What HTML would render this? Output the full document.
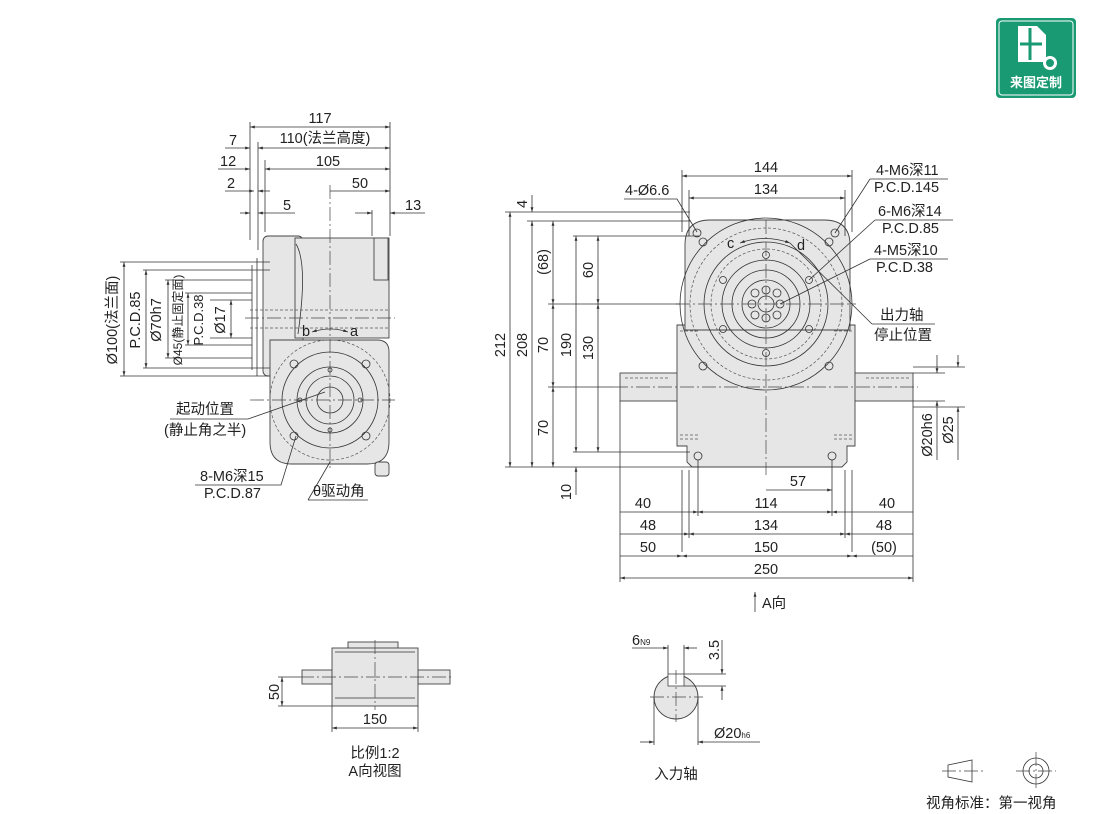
<!DOCTYPE html>
<html><head><meta charset="utf-8"><style>
html,body{margin:0;padding:0;background:#fff;}
svg{display:block;font-family:"Liberation Sans","Noto Sans CJK SC",sans-serif;}
text{fill:#222;font-size:14.5px;}
.l{stroke:#333;stroke-width:0.8;fill:none;}
.c{stroke:#444;stroke-width:0.7;fill:none;stroke-dasharray:14 3 2 3;}
.d{stroke:#555;stroke-width:0.7;fill:none;stroke-dasharray:3 2;}
.b{fill:#e6e6e6;stroke:#444;stroke-width:0.9;}
</style></head><body>
<svg width="1110" height="814" viewBox="0 0 1110 814" xmlns="http://www.w3.org/2000/svg">
<defs>
<marker id="a" viewBox="0 0 10 10" refX="10" refY="5" markerWidth="8" markerHeight="6" orient="auto-start-reverse"><path d="M0,2 L10,5 L0,8z" fill="#333"/></marker>
</defs>

<rect x="996" y="18" width="80" height="80" rx="4" fill="#1a9a73"/>
<rect x="999" y="21" width="74" height="74" rx="3" fill="none" stroke="#fff" stroke-width="1"/>
<path d="M1018,26 h19 l9,9 v27 h-28z" fill="#fff"/>
<path d="M1030,28 v32 M1020,44 h22" stroke="#1a9a73" stroke-width="3"/>
<circle cx="1050" cy="63" r="7" fill="#fff"/><circle cx="1050" cy="63" r="4" fill="#1a9a73"/>
<text x="1036" y="87" text-anchor="middle" style="fill:#fff;font-size:13px;font-weight:bold">来图定制</text>

<rect class="b" x="263" y="236" width="40" height="140" rx="5"/>
<rect class="b" x="295" y="238" width="94" height="100"/>
<rect class="b" x="374" y="238" width="14" height="42"/>
<path class="b" d="M270,340 h107 q12,0 12,12 v90 q0,22 -22,22 h-75 q-22,0 -22,-22z"/>
<rect class="b" x="375" y="462" width="14" height="14" rx="3"/>
<path class="l" d="M296,244 q12,20 2,90"/>
<line class="l" x1="257" y1="258" x2="257" y2="376"/>
<line class="l" x1="252" y1="265" x2="252" y2="370"/>
<circle class="d" cx="330" cy="400" r="60"/>
<circle class="l" cx="330" cy="400" r="48"/>
<circle class="l" cx="330" cy="400" r="33"/>
<circle class="l" cx="330" cy="400" r="24"/>
<circle class="l" cx="330" cy="400" r="13"/>
<g class="l">
<circle cx="294" cy="364" r="4"/><circle cx="366" cy="364" r="4"/><circle cx="294" cy="436" r="4"/><circle cx="366" cy="436" r="4"/>
<circle cx="330" cy="370" r="2"/><circle cx="330" cy="430" r="2"/><circle cx="300" cy="400" r="2"/><circle cx="360" cy="400" r="2"/>
</g>
<line class="c" x1="330" y1="185" x2="330" y2="470"/>
<line class="c" x1="250" y1="400" x2="395" y2="400"/>
<line class="c" x1="245" y1="318" x2="395" y2="318"/>
<line class="d" x1="250" y1="310" x2="390" y2="310"/>
<line class="d" x1="250" y1="328" x2="390" y2="328"/>
<text x="302" y="336">b</text><text x="350" y="336">a</text>
<path class="l" d="M312,332 q18,-6 36,0" marker-end="url(#a)" marker-start="url(#a)"/>
<g class="l">
<line x1="250" y1="122" x2="250" y2="240"/><line x1="258" y1="142" x2="258" y2="250"/>
<line x1="265" y1="160" x2="265" y2="232"/><line x1="390" y1="122" x2="390" y2="236"/>
<line x1="372" y1="210" x2="372" y2="236"/>
<line x1="250" y1="127" x2="390" y2="127" marker-start="url(#a)" marker-end="url(#a)"/>
<line x1="258" y1="148" x2="390" y2="148" marker-start="url(#a)" marker-end="url(#a)"/>
<line x1="265" y1="169" x2="390" y2="169" marker-start="url(#a)" marker-end="url(#a)"/>
<line x1="330" y1="191" x2="390" y2="191" marker-end="url(#a)"/>
<line x1="225" y1="148" x2="250" y2="148" marker-end="url(#a)"/><line x1="218" y1="169" x2="250" y2="169" marker-end="url(#a)"/>
<line x1="225" y1="191" x2="254" y2="191" marker-end="url(#a)"/><line x1="270" y1="191" x2="258" y2="191" marker-end="url(#a)"/>
<line x1="240" y1="213" x2="250" y2="213" marker-end="url(#a)"/><line x1="295" y1="213" x2="258" y2="213" marker-end="url(#a)"/>
<line x1="355" y1="213" x2="372" y2="213" marker-end="url(#a)"/><line x1="425" y1="213" x2="390" y2="213" marker-end="url(#a)"/>
</g>
<text x="320" y="123" text-anchor="middle">117</text>
<text x="325" y="143" text-anchor="middle">110(法兰高度)</text>
<text x="328" y="166" text-anchor="middle">105</text>
<text x="360" y="188" text-anchor="middle">50</text>
<text x="229" y="145">7</text><text x="220" y="166">12</text><text x="227" y="188">2</text>
<text x="283" y="210">5</text><text x="405" y="210">13</text>
<g class="l">
<line x1="120" y1="262" x2="270" y2="262"/><line x1="120" y1="376" x2="270" y2="376"/>
<line x1="143" y1="270" x2="270" y2="270"/><line x1="143" y1="368" x2="270" y2="368"/>
<line x1="165" y1="280" x2="252" y2="280"/><line x1="165" y1="358" x2="252" y2="358"/>
<line x1="185" y1="293" x2="252" y2="293"/><line x1="185" y1="345" x2="252" y2="345"/>
<line x1="210" y1="300" x2="252" y2="300"/><line x1="210" y1="338" x2="252" y2="338"/>
<line x1="124" y1="262" x2="124" y2="376" marker-start="url(#a)" marker-end="url(#a)"/>
<line x1="146" y1="270" x2="146" y2="368" marker-start="url(#a)" marker-end="url(#a)"/>
<line x1="168" y1="280" x2="168" y2="358" marker-start="url(#a)" marker-end="url(#a)"/>
<line x1="188" y1="293" x2="188" y2="345" marker-start="url(#a)" marker-end="url(#a)"/>
<line x1="231" y1="300" x2="231" y2="338" marker-start="url(#a)" marker-end="url(#a)"/>
</g>
<text transform="translate(117,320) rotate(-90)" text-anchor="middle">Ø100(法兰面)</text>
<text transform="translate(140,320) rotate(-90)" text-anchor="middle">P.C.D.85</text>
<text transform="translate(161,320) rotate(-90)" text-anchor="middle">Ø70h7</text>
<text transform="translate(182,320) rotate(-90)" text-anchor="middle" style="font-size:12px">Ø45(静止固定面)</text>
<text transform="translate(203,320) rotate(-90)" text-anchor="middle" style="font-size:13px">P.C.D.38</text>
<text transform="translate(225,320) rotate(-90)" text-anchor="middle">Ø17</text>
<text x="176" y="414">起动位置</text><text x="164" y="435">(静止角之半)</text>
<path class="l" d="M170,419 h78 L325,392"/>
<text x="200" y="481">8-M6深15</text><text x="204" y="498">P.C.D.87</text>
<path class="l" d="M195,485 h86 L296,436"/>
<text x="313" y="496">θ驱动角</text>
<path class="l" d="M308,500 h60 M308,500 L330,462"/>

<rect class="b" x="620" y="373" width="62" height="28"/>
<rect class="b" x="851" y="373" width="62" height="28"/>
<path class="b" d="M677,325 h178 v121 h-8 v16 l-5,5 h-150 l-5,-5 v-16 h-10z"/>
<path class="b" d="M685,330 v-85 q0,-25 25,-25 h114 q26,0 26,25 v85z"/>
<circle class="l" cx="766" cy="304" r="86"/>
<circle class="d" cx="766" cy="304" r="76"/>
<circle class="l" cx="766" cy="304" r="62"/>
<circle class="d" cx="766" cy="304" r="55"/>
<circle class="l" cx="766" cy="304" r="44"/>
<circle class="l" cx="766" cy="304" r="34"/>
<circle class="l" cx="766" cy="304" r="24"/>
<circle class="l" cx="766" cy="304" r="8"/>
<g class="l">
<circle cx="780" cy="304" r="4"/><circle cx="752" cy="304" r="4"/><circle cx="766" cy="290" r="4"/><circle cx="766" cy="318" r="4"/>
<circle cx="777" cy="293" r="4"/><circle cx="755" cy="293" r="4"/><circle cx="777" cy="315" r="4"/><circle cx="755" cy="315" r="4"/>
<circle cx="766" cy="255" r="3.5"/><circle cx="766" cy="353" r="3.5"/><circle cx="723" cy="280" r="3.5"/><circle cx="809" cy="280" r="3.5"/>
<circle cx="723" cy="329" r="3.5"/><circle cx="809" cy="329" r="3.5"/>
<circle cx="703" cy="242" r="4"/><circle cx="829" cy="242" r="4"/><circle cx="703" cy="366" r="4"/><circle cx="829" cy="366" r="4"/>
<circle cx="697" cy="233" r="4"/><circle cx="835" cy="233" r="4"/>
<circle cx="698" cy="456" r="4"/><circle cx="832" cy="456" r="4"/>
</g>
<g class="d">
<line x1="680" y1="435" x2="698" y2="435"/><line x1="680" y1="439" x2="698" y2="439"/>
<line x1="834" y1="435" x2="852" y2="435"/><line x1="834" y1="439" x2="852" y2="439"/>
<line x1="680" y1="331" x2="698" y2="331"/><line x1="834" y1="331" x2="852" y2="331"/>
<line x1="625" y1="378" x2="668" y2="378"/><line x1="866" y1="378" x2="910" y2="378"/>
</g>
<text x="727" y="248">c</text><text x="797" y="250">d</text>
<path class="l" d="M740,243 q25,-9 50,0" marker-start="url(#a)" marker-end="url(#a)"/>
<line class="c" x1="766" y1="220" x2="766" y2="475"/>
<line class="c" x1="676" y1="304" x2="856" y2="304"/>
<line class="c" x1="614" y1="387" x2="918" y2="387"/>
<g class="l">
<line x1="682" y1="170" x2="682" y2="232"/><line x1="852" y1="170" x2="852" y2="232"/>
<line x1="689" y1="190" x2="689" y2="236"/><line x1="845" y1="190" x2="845" y2="236"/>
<line x1="682" y1="176" x2="852" y2="176" marker-start="url(#a)" marker-end="url(#a)"/>
<line x1="689" y1="198" x2="845" y2="198" marker-start="url(#a)" marker-end="url(#a)"/>
</g>
<text x="766" y="172" text-anchor="middle">144</text><text x="766" y="194" text-anchor="middle">134</text>
<text x="625" y="195">4-Ø6.6</text><path class="l" d="M624,199 h53 L697,232"/>
<text x="876" y="175">4-M6深11</text><text x="874" y="192">P.C.D.145</text>
<path class="l" d="M870,179 h78 M870,179 L835,233"/>
<text x="878" y="216">6-M6深14</text><text x="882" y="233">P.C.D.85</text>
<path class="l" d="M875,220 h78 M875,220 L809,280"/>
<text x="874" y="255">4-M5深10</text><text x="876" y="272">P.C.D.38</text>
<path class="l" d="M870,259 h78 M870,259 L780,304"/>
<text x="880" y="320">出力轴</text><text x="874" y="340">停止位置</text>
<path class="l" d="M872,324 h63 M872,324 L790,243"/>
<g class="l">
<line x1="505" y1="212" x2="690" y2="212"/><line x1="527" y1="221" x2="690" y2="221"/>
<line x1="573" y1="236" x2="700" y2="236"/><line x1="548" y1="304" x2="680" y2="304"/>
<line x1="548" y1="387" x2="614" y2="387"/><line x1="505" y1="467" x2="700" y2="467"/>
<line x1="573" y1="452" x2="690" y2="452"/>
<line x1="510" y1="212" x2="510" y2="467" marker-start="url(#a)" marker-end="url(#a)"/>
<line x1="532" y1="221" x2="532" y2="467" marker-start="url(#a)" marker-end="url(#a)"/>
<line x1="553" y1="221" x2="553" y2="304" marker-start="url(#a)" marker-end="url(#a)"/>
<line x1="553" y1="304" x2="553" y2="387" marker-start="url(#a)" marker-end="url(#a)"/>
<line x1="553" y1="387" x2="553" y2="467" marker-start="url(#a)" marker-end="url(#a)"/>
<line x1="576" y1="236" x2="576" y2="452" marker-start="url(#a)" marker-end="url(#a)"/>
<line x1="598" y1="236" x2="598" y2="304" marker-start="url(#a)" marker-end="url(#a)"/>
<line x1="598" y1="304" x2="598" y2="452" marker-start="url(#a)" marker-end="url(#a)"/>
<line x1="532" y1="195" x2="532" y2="212" marker-end="url(#a)"/>
<line x1="576" y1="495" x2="576" y2="467" marker-end="url(#a)"/>
</g>
<text transform="translate(527,204) rotate(-90)" text-anchor="middle">4</text>
<text transform="translate(505,345) rotate(-90)" text-anchor="middle">212</text>
<text transform="translate(527,345) rotate(-90)" text-anchor="middle">208</text>
<text transform="translate(548,262) rotate(-90)" text-anchor="middle">(68)</text>
<text transform="translate(548,345) rotate(-90)" text-anchor="middle">70</text>
<text transform="translate(548,428) rotate(-90)" text-anchor="middle">70</text>
<text transform="translate(571,345) rotate(-90)" text-anchor="middle">190</text>
<text transform="translate(593,270) rotate(-90)" text-anchor="middle">60</text>
<text transform="translate(593,348) rotate(-90)" text-anchor="middle">130</text>
<text transform="translate(571,492) rotate(-90)" text-anchor="middle">10</text>
<g class="l">
<line x1="913" y1="373" x2="945" y2="373"/><line x1="913" y1="401" x2="945" y2="401"/>
<line x1="913" y1="367" x2="965" y2="367"/><line x1="913" y1="407" x2="965" y2="407"/>
<line x1="937" y1="355" x2="937" y2="373" marker-end="url(#a)"/><line x1="937" y1="460" x2="937" y2="401" marker-end="url(#a)"/>
<line x1="958" y1="355" x2="958" y2="367" marker-end="url(#a)"/><line x1="958" y1="460" x2="958" y2="407" marker-end="url(#a)"/>
</g>
<text transform="translate(932,435) rotate(-90)" text-anchor="middle">Ø20h6</text>
<text transform="translate(953,430) rotate(-90)" text-anchor="middle">Ø25</text>
<g class="l">
<line x1="620" y1="401" x2="620" y2="582"/><line x1="913" y1="401" x2="913" y2="582"/>
<line x1="682" y1="470" x2="682" y2="552"/><line x1="852" y1="470" x2="852" y2="552"/>
<line x1="689" y1="470" x2="689" y2="538"/><line x1="845" y1="470" x2="845" y2="538"/>
<line x1="698" y1="460" x2="698" y2="516"/><line x1="832" y1="460" x2="832" y2="516"/>
<line x1="620" y1="512" x2="698" y2="512" marker-end="url(#a)"/><line x1="698" y1="512" x2="832" y2="512" marker-start="url(#a)" marker-end="url(#a)"/><line x1="913" y1="512" x2="832" y2="512" marker-end="url(#a)"/>
<line x1="620" y1="534" x2="689" y2="534" marker-end="url(#a)"/><line x1="689" y1="534" x2="845" y2="534" marker-start="url(#a)" marker-end="url(#a)"/><line x1="913" y1="534" x2="845" y2="534" marker-end="url(#a)"/>
<line x1="620" y1="556" x2="682" y2="556" marker-end="url(#a)"/><line x1="682" y1="556" x2="852" y2="556" marker-start="url(#a)" marker-end="url(#a)"/><line x1="913" y1="556" x2="852" y2="556" marker-end="url(#a)"/>
<line x1="620" y1="578" x2="913" y2="578" marker-start="url(#a)" marker-end="url(#a)"/>
<line x1="766" y1="490" x2="832" y2="490" marker-end="url(#a)"/>
<line x1="755" y1="612" x2="755" y2="592" marker-end="url(#a)"/>
</g>
<text x="798" y="486" text-anchor="middle">57</text>
<text x="643" y="508" text-anchor="middle">40</text><text x="766" y="508" text-anchor="middle">114</text><text x="887" y="508" text-anchor="middle">40</text>
<text x="648" y="530" text-anchor="middle">48</text><text x="766" y="530" text-anchor="middle">134</text><text x="884" y="530" text-anchor="middle">48</text>
<text x="648" y="552" text-anchor="middle">50</text><text x="766" y="552" text-anchor="middle">150</text><text x="884" y="552" text-anchor="middle">(50)</text>
<text x="766" y="574" text-anchor="middle">250</text>
<text x="762" y="608">A向</text>

<rect class="b" x="302" y="670" width="30" height="14"/>
<rect class="b" x="418" y="670" width="32" height="14"/>
<rect class="b" x="348" y="642" width="50" height="8"/>
<rect class="b" x="332" y="648" width="86" height="58"/>
<line class="l" x1="335" y1="652" x2="415" y2="652"/><line class="l" x1="335" y1="698" x2="415" y2="698"/>
<line class="c" x1="300" y1="677" x2="452" y2="677"/><line class="c" x1="375" y1="640" x2="375" y2="710"/>
<g class="l">
<line x1="278" y1="677" x2="300" y2="677"/><line x1="278" y1="706" x2="332" y2="706"/>
<line x1="282" y1="692" x2="282" y2="677" marker-end="url(#a)"/><line x1="282" y1="692" x2="282" y2="706" marker-end="url(#a)"/>
<line x1="332" y1="706" x2="332" y2="732"/><line x1="418" y1="706" x2="418" y2="732"/>
<line x1="332" y1="728" x2="418" y2="728" marker-start="url(#a)" marker-end="url(#a)"/>
</g>
<text transform="translate(279,692) rotate(-90)" text-anchor="middle">50</text>
<text x="375" y="724" text-anchor="middle">150</text>
<text x="375" y="758" text-anchor="middle">比例1:2</text><text x="375" y="776" text-anchor="middle">A向视图</text>

<circle class="b" cx="676" cy="697" r="22"/>
<rect x="668" y="674" width="16" height="12" fill="#fff" stroke="#444" stroke-width="0.8"/>
<line class="c" x1="650" y1="697" x2="703" y2="697"/><line class="c" x1="676" y1="670" x2="676" y2="722"/>
<g class="l">
<line x1="668" y1="645" x2="668" y2="674"/><line x1="684" y1="645" x2="684" y2="674"/>
<line x1="632" y1="648" x2="668" y2="648" marker-end="url(#a)"/><line x1="697" y1="648" x2="684" y2="648" marker-end="url(#a)"/>
<line x1="684" y1="674" x2="726" y2="674"/><line x1="684" y1="686" x2="726" y2="686"/>
<line x1="722" y1="640" x2="722" y2="674" marker-end="url(#a)"/><line x1="722" y1="700" x2="722" y2="686" marker-end="url(#a)"/>
<line x1="654" y1="697" x2="654" y2="745"/><line x1="698" y1="697" x2="698" y2="745"/>
<line x1="640" y1="742" x2="654" y2="742" marker-end="url(#a)"/><line x1="760" y1="742" x2="698" y2="742" marker-end="url(#a)"/>
</g>
<text x="632" y="645">6<tspan style="font-size:8px">N9</tspan></text>
<text transform="translate(719,650) rotate(-90)" text-anchor="middle">3.5</text>
<text x="714" y="738">Ø20<tspan style="font-size:8px">h6</tspan></text>
<text x="676" y="779" text-anchor="middle">入力轴</text>

<path class="l" d="M948,765 L972,760 V782 L948,777z"/>
<line class="c" x1="942" y1="771" x2="985" y2="771"/>
<circle class="l" cx="1036" cy="771" r="13"/><circle class="l" cx="1036" cy="771" r="7"/>
<line class="c" x1="1016" y1="771" x2="1056" y2="771"/><line class="c" x1="1036" y1="752" x2="1036" y2="790"/>
<text x="926" y="808">视角标准：第一视角</text>
</svg>
</body></html>
